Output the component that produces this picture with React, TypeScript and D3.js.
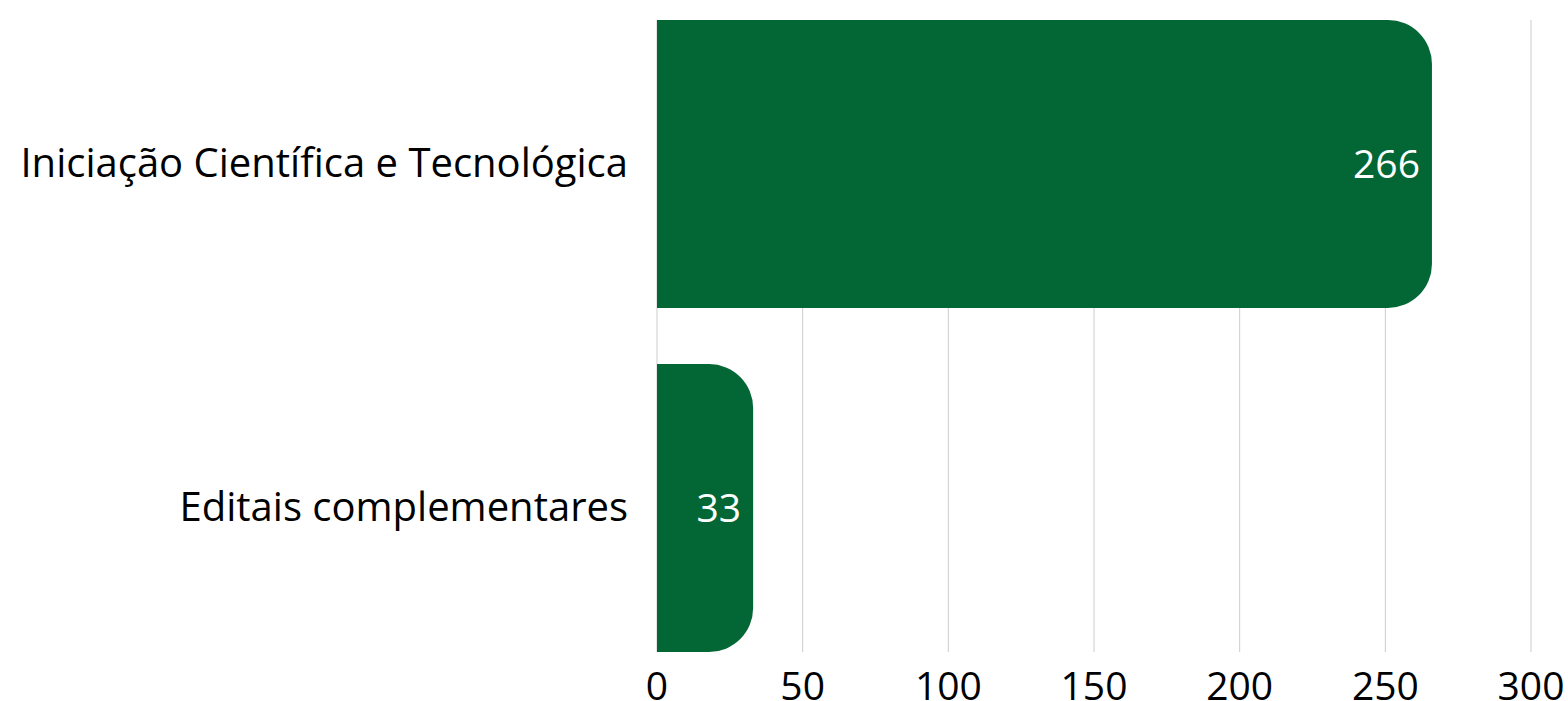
import React from "react";
import * as d3 from "d3";

const categories = ["Iniciação Científica e Tecnológica", "Editais complementares"];
const values = [266, 33];
const ticks = [0, 50, 100, 150, 200, 250, 300];

const W = 1568;
const H = 701;
const FONT = "'Open Sans', sans-serif";

function barPath(x0: number, x1: number, y0: number, h: number, r: number) {
  const rr = Math.min(r, (x1 - x0), h / 2);
  return `M${x0},${y0} H${x1 - rr} A${rr},${rr} 0 0 1 ${x1},${y0 + rr} V${y0 + h - rr} A${rr},${rr} 0 0 1 ${x1 - rr},${y0 + h} H${x0} Z`;
}

export default function App() {
  const x = d3.scaleLinear().domain([0, 300]).range([657, 1531]);
  const y = d3.scaleBand<string>().domain(categories).range([20, 652]).paddingInner(0.163).paddingOuter(0);
  const bw = y.bandwidth();
  return (
    <svg width={W} height={H} style={{ position: "absolute", left: 0, top: 0, background: "#fff" }}>
      {ticks.map((t) => (
        <g key={t}>
          <line x1={x(t)} x2={x(t)} y1={20} y2={652} stroke="#cccccc" strokeWidth={1} />
          <text x={x(t)} y={700} textAnchor="middle" fontFamily={FONT} fontSize={39} fill="#000">
            {t}
          </text>
        </g>
      ))}
      {categories.map((c, i) => {
        const y0 = y(c)!;
        const cy = y0 + bw / 2;
        return (
          <g key={c}>
            <path d={barPath(x(0), x(values[i]), y0, bw, 44)} fill="#036635" />
            <text x={628} y={cy + 13} textAnchor="end" fontFamily={FONT} fontSize={40} fill="#000">
              {c}
            </text>
            <text x={x(values[i]) - 12} y={cy + 14} textAnchor="end" fontFamily={FONT} fontSize={39} fill="#fff">
              {values[i]}
            </text>
          </g>
        );
      })}
    </svg>
  );
}
